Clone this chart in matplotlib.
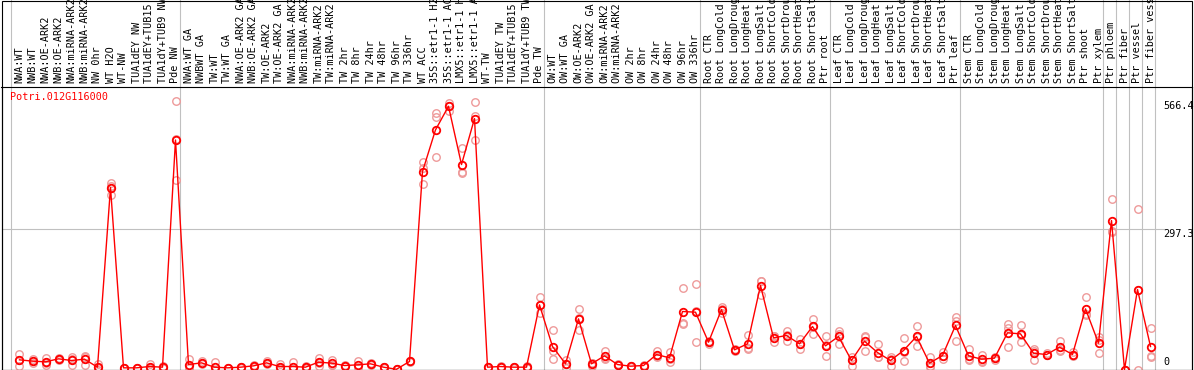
import math
import matplotlib
matplotlib.use("Agg")
import matplotlib.pyplot as plt
import matplotlib.transforms as mtransforms
from matplotlib.patches import Rectangle

# ================= Data =================
GENE = "Potri.012G116000"

samples = [
    "NWA:WT", "NWB:WT", "NWA:OE-ARK2", "NWB:OE-ARK2", "NWA:miRNA-ARK2", "NWB:miRNA-ARK2",
    "NW 0hr", "WT H2O", "WT-NW", "TUA1dEY NW", "TUA1dEY+TUB15 NW", "TUA1dY+TUB9 NW", "Pde NW",
    "NWA:WT GA", "NWBWT GA", "TW:WT", "TW:WT GA", "NWA:OE-ARK2 GA", "NWB:OE-ARK2 GA",
    "TW:OE-ARK2", "TW:OE-ARK2 GA", "NWA:miRNA-ARK2 GA", "NWB:miRNA-ARK2 GA",
    "TW:miRNA-ARK2", "TW:miRNA-ARK2 GA", "TW 2hr", "TW 8hr", "TW 24hr", "TW 48hr",
    "TW 96hr", "TW 336hr", "WT ACC", "35S::etr1-1 H2O", "35S::etr1-1 ACC",
    "LMX5::etr1-1 H2O", "LMX5::etr1-1 ACC", "WT-TW", "TUA1dEY TW", "TUA1dEY+TUB15 TW",
    "TUA1dY+TUB9 TW", "Pde TW",
    "OW:WT", "OW:WT GA", "OW:OE-ARK2", "OW:OE-ARK2 GA", "OW:miRNA-ARK2", "OW:miRNA-ARK2 GA",
    "OW 2hr", "OW 8hr", "OW 24hr", "OW 48hr", "OW 96hr", "OW 336hr",
    "Root CTR", "Root LongCold", "Root LongDrought", "Root LongHeat", "Root LongSalt",
    "Root ShortCold", "Root ShortDrought", "Root ShortHeat", "Root ShortSalt", "Ptr root",
    "Leaf CTR", "Leaf LongCold", "Leaf LongDrought", "Leaf LongHeat", "Leaf LongSalt",
    "Leaf ShortCold", "Leaf ShortDrought", "Leaf ShortHeat", "Leaf ShortSalt", "Ptr leaf",
    "Stem CTR", "Stem LongCold", "Stem LongDrought", "Stem LongHeat", "Stem LongSalt",
    "Stem ShortCold", "Stem ShortDrought", "Stem ShortHeat", "Stem ShortSalt", "Ptr shoot",
    "Ptr xylem", "Ptr phloem", "Ptr fiber", "Ptr vessel", "Ptr fiber vessel",
]

means = [
    20.4, 17.6, 16.2, 22.5, 19.0, 21.8, 4.9, 383.7, 3.5, 3.5, 6.3, 4.9, 484.0,
    10.5, 14.0, 4.9, 3.5, 4.9, 7.7, 14.0, 6.3, 6.3, 4.9, 15.5, 13.4, 8.4, 9.8, 12.0,
    4.9, 0.5, 16.9, 417.5, 505.3, 555.2, 432.2, 529.2, 4.9, 6.3, 4.9, 4.9, 136.3,
    48.5, 12.0, 106.8, 12.0, 28.8, 10.5, 7.0, 8.4, 31.6, 24.6, 122.3, 120.9,
    57.6, 126.5, 41.5, 54.1, 177.1, 66.8, 71.7, 54.1, 90.7, 49.9,
    69.6, 19.0, 59.7, 35.8, 19.0, 40.0, 69.6, 13.4, 29.5, 92.8,
    28.8, 21.8, 23.9, 77.3, 75.2, 34.4, 31.6, 47.1, 31.6, 127.9, 55.5,
    314.2, 0.0, 168.7, 48.5,
]

replicates = [
    [33, 8, 20], [22, 13, 18], [24, 10.5, 14], [24, 21, 22.5], [26, 9, 22], [29.5, 9, 27],
    [12, 3.5, 0], [394, 369, 388], [3.5, 3, 4], [3.5, 4, 3], [12, 4, 3], [8, 4, 3],
    [566.4, 400, 486],
    [22.5, 5, 4], [17, 14, 11], [15.5, 0, 0], [3.5, 3, 4], [3.5, 6, 5], [6, 8, 9],
    [17, 14, 11], [12, 4, 3], [15.5, 2, 1.5], [8, 4, 3], [25, 8, 13], [20, 10, 10],
    [8, 9, 8], [17, 6, 6], [14, 10, 12], [6, 4, 5], [0.5, 0.5, 0.5], [18, 16, 17],
    [437, 391.5, 424], [540, 532, 447.7], [561, 546, 556], [467, 416, 414],
    [564, 484, 534], [5, 4, 5], [6, 7, 6], [4, 5, 6], [8, 4, 3], [152.5, 118.8, 137],
    [83.6, 22.5, 40], [20, 4, 12], [128, 83.6, 109], [14, 8, 14], [40, 25, 22],
    [12, 10, 10], [8, 7, 6], [9, 8, 8], [40, 28, 27], [36.5, 15.5, 22], [172, 96, 98],
    [180.6, 57.6, 124],
    [54, 60, 59], [132.8, 118.8, 128], [43, 40, 41.5], [73.8, 45.7, 43], [187.6, 158, 186],
    [71.7, 57.6, 71], [82.2, 59.7, 73], [64.7, 43.6, 54], [106.8, 75.2, 90], [69.6, 28.8, 51],
    [80.8, 54.1, 74], [27.4, 8.4, 21], [68, 40, 71], [54.1, 26, 27], [26, 8.4, 22],
    [66.8, 17.6, 36], [90.7, 50, 68], [26, 6.3, 8], [36.5, 22.5, 29.5], [111.7, 103.3, 61.1],
    [43.6, 20.4, 22], [31.6, 15.5, 18], [27.4, 20.4, 24], [96.3, 87.9, 47.1], [94.9, 57.6, 73],
    [43.6, 19, 40], [34, 30, 31], [59.7, 40, 42], [36.5, 30, 28], [153.9, 116, 114],
    [68.2, 35.8, 62],
    [359.8, 289.8, 293], [0, 0, 0], [338.8, 0, 167], [87.9, 29.5, 26],
]

# first sample index of each group (last entry = end)
group_starts = [0, 13, 41, 53, 63, 73, 84, 85, 86, 87, 88]
# ========================================

FONT = "DejaVu Sans Mono"
FS = 7.3
GRID = "#c0c0c0"


def trunc1(v):
    # labels are truncated, not rounded
    return f"{math.floor(v * 10) / 10:.1f}"


W, H = 1194, 370
fig = plt.figure(figsize=(W / 100, H / 100), dpi=100)
ax = fig.add_axes([1.5 / W, 0.5 / H, 1190 / W, 283 / H])

n = len(means)
xs = list(range(n))
ymax = max(max(r) for r in replicates)
ytop = ymax * 1.05

ax.set_xlim(-18 / 13, 1172 / 13)
ax.set_ylim(0, ytop * 283 / 282)

# replicates
for i, reps in enumerate(replicates):
    ax.plot([i] * len(reps), reps, linestyle="none", marker="o", ms=5.4,
            mfc="none", mec="#ee9a9a", mew=1.0, zorder=3)

# mean line
ax.plot(xs, means, color="red", lw=1.0, marker="o", ms=5.4, mfc="none",
        mec="red", mew=1.3, zorder=4)

# group separators (run through the header too)
sep_tr = mtransforms.blended_transform_factory(ax.transData, ax.transAxes)
top_frac = 369.5 / 283
for b in group_starts:
    ax.plot([b - 0.65, b - 0.65], [0, top_frac], color=GRID, lw=0.8,
            transform=sep_tr, clip_on=False, zorder=1)

# mid gridline
ax.plot([-18 / 13, 88], [ytop / 2, ytop / 2], color=GRID, lw=0.8, zorder=1)

# right value labels
ax.text(88, ymax, trunc1(ymax), ha="left", va="top", family=FONT, fontsize=FS)
ax.text(88, ytop / 2, trunc1(ytop / 2), ha="left", va="top", family=FONT, fontsize=FS)
ax.text(88, 6, "0", ha="left", va="bottom", family=FONT, fontsize=FS)

# header labels (long ones run off the top, as in the original)
for i, s in enumerate(samples):
    ax.text(i, 1 + 3.5 / 283, s, rotation=90, ha="center", va="bottom",
            family=FONT, fontsize=FS, transform=sep_tr, clip_on=False)

# gene name
ax.text(8.5 / 1190, 1 - 5.5 / 283, GENE, color="red", ha="left", va="top",
        family=FONT, fontsize=FS, transform=ax.transAxes)

ax.set_xticks([])
ax.set_yticks([])
for sp in ax.spines.values():
    sp.set_linewidth(0.8)
    sp.set_color("black")

# outer frame around header + plot
fig.add_artist(Rectangle((1.5 / W, 0.5 / H), 1190 / W, 369 / H, fill=False,
                         ec="black", lw=0.8, transform=fig.transFigure))

fig.savefig("out.png", dpi=100)
